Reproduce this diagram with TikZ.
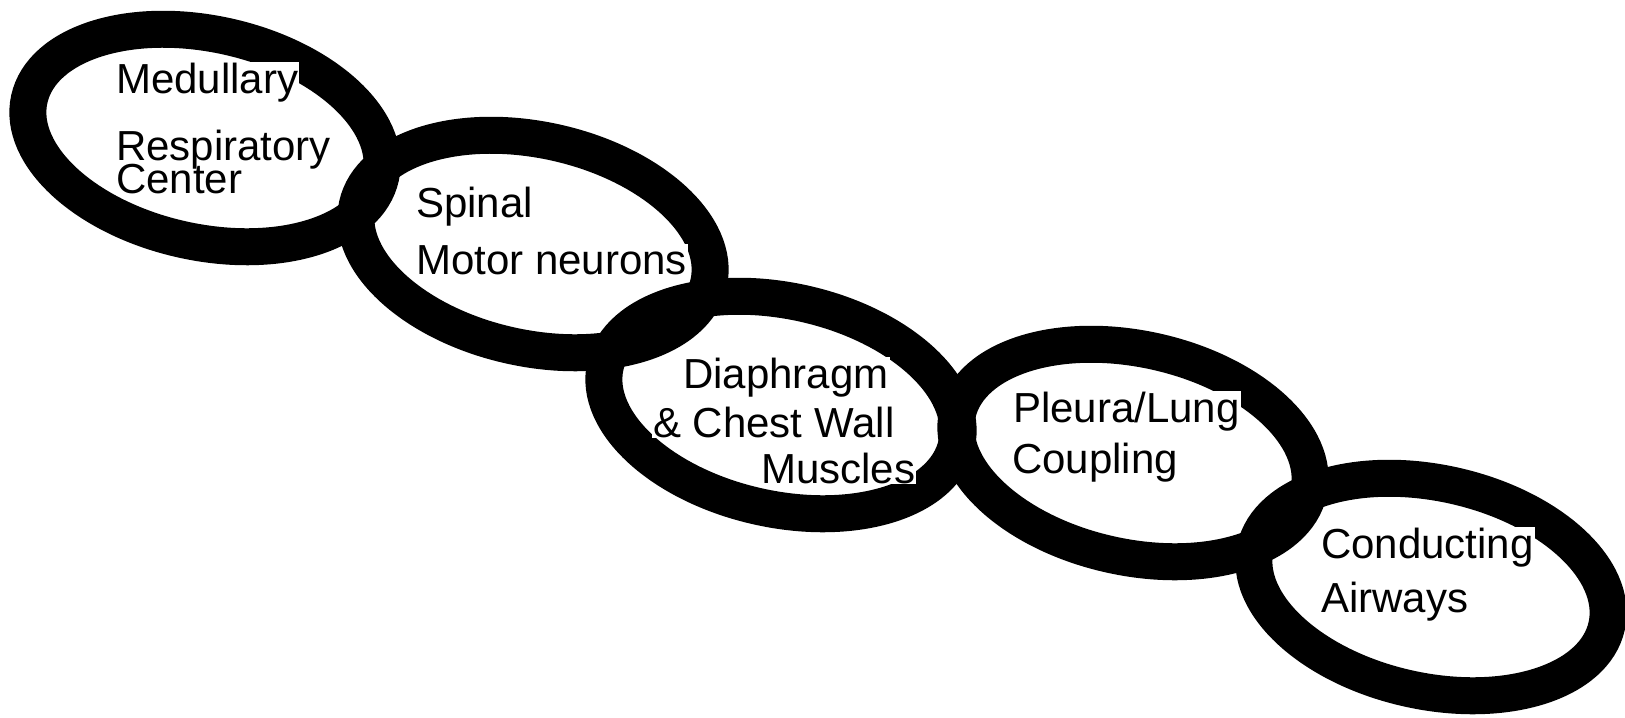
\documentclass[tikz,border=0pt]{standalone}
\usepackage{fontspec}
\setmainfont{Liberation Sans}
\usepackage{tikz}
\usetikzlibrary{shapes.geometric, positioning}
\tikzset{
  ring/.style={ellipse, draw=black, line width=0.74cm, rotate=-12.5,
               minimum width=7.2cm, minimum height=4.16cm, inner sep=0pt},
  lbl/.style={fill=white, inner xsep=0.5pt, inner ysep=0.5pt, anchor=base west,
              font=\fontsize{23.9}{28}\selectfont},
  plainlbl/.style={lbl, fill=none},
}

\begin{document}
\begin{tikzpicture}[x=0.02cm, y=-0.02cm]
          \useasboundingbox (0,0) rectangle (1625,717);
          % chain of rings
          \node[ring] (rmed) at (205,138) {};
          \node[ring] (rspin) at (533,244) {};
          \node[ring] (rdia) at (781,405) {};
          \node[ring] (rpleu) at (1133,453) {};
          \node[ring] (rair) at (1431,587) {};
          % labels, one box per line
          \node[lbl] (med1) at (115,93) {Medullary};
          \node[plainlbl] (med2) at (115,160) {Respiratory};
          \node[plainlbl] (med3) at (115,193) {Center};
          \node[lbl] (spin1) at (415,217) {Spinal};
          \node[lbl] (spin2) at (415,274) {Motor neurons};
          \node[lbl] (dia1) at (682,388) {Diaphragm};
          \node[lbl] (dia2) at (652,437) {\& Chest Wall};
          \node[lbl] (dia3) at (760,483) {Muscles};
          \node[lbl] (pleu1) at (1012,422) {Pleura/Lung};
          \node[lbl] (pleu2) at (1011,473) {Coupling};
          \node[lbl] (air1) at (1320,558) {Conducting};
          \node[lbl] (air2) at (1320,612) {Airways};
        \end{tikzpicture}
\end{document}
